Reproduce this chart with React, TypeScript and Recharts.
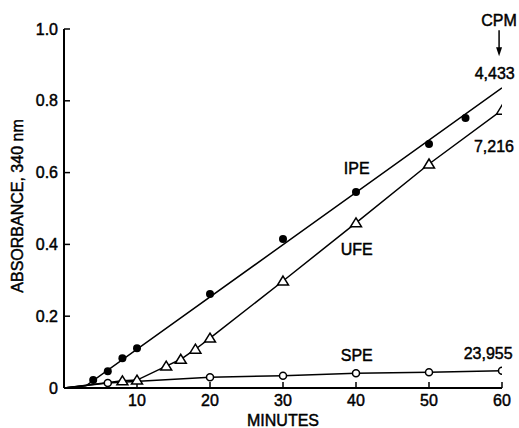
import { ComposedChart, Line, Scatter, XAxis, YAxis, ReferenceDot } from 'recharts';

// minutes / absorbance
const ipeMinutes = [4, 6, 8, 10, 20, 30, 40, 50, 55];
const ipeAbs = [0.022, 0.047, 0.083, 0.111, 0.262, 0.415, 0.546, 0.68, 0.752];
const ipeFitMinutes = [0, 3, 60];
const ipeFitAbs = [0, 0.006, 0.836];

const ufeMinutes = [8, 10, 14, 16, 18, 20, 30, 40, 50, 60];
const ufeAbs = [0.02, 0.022, 0.061, 0.08, 0.108, 0.139, 0.298, 0.46, 0.624, 0.774];

const speMinutes = [6, 20, 30, 40, 50, 60];
const speAbs = [0.014, 0.03, 0.034, 0.041, 0.044, 0.048];

const xTicks = [10, 20, 30, 40, 50, 60];
const yTicks = [0, 0.2, 0.4, 0.6, 0.8, 1.0];

const zip = (xs: number[], ys: number[]) => xs.map((x, i) => ({ x, y: ys[i] }));

const ipePoints = zip(ipeMinutes, ipeAbs);
const ipeFit = zip(ipeFitMinutes, ipeFitAbs);
const ufePoints = zip(ufeMinutes, ufeAbs);
const spePoints = zip(speMinutes, speAbs);
const ufeLine = [{ x: 0, y: 0 }, ...ufePoints];
const speLine = [{ x: 0, y: 0 }, ...spePoints];

const FONT = '"Liberation Sans", Arial, Helvetica, sans-serif';
const textStyle = { fill: '#000', fontSize: 16, stroke: '#000', strokeWidth: 0.45 };

const FilledDot = (p: any) => <circle cx={p.cx} cy={p.cy} r={4} fill="#000" />;
const OpenDot = (p: any) => (
  <circle cx={p.cx} cy={p.cy} r={3.5} fill="#fff" stroke="#000" strokeWidth={1.5} />
);
const OpenTriangle = (p: any) => {
  const { cx, cy } = p;
  return (
    <path
      d={`M${cx},${cy - 5} L${cx + 5.5},${cy + 4} L${cx - 5.5},${cy + 4} Z`}
      fill="#fff"
      stroke="#000"
      strokeWidth={1.5}
    />
  );
};
const Arrow = (p: any) => {
  const { cx, cy } = p;
  return (
    <g>
      <line x1={cx} y1={cy - 13} x2={cx} y2={cy + 5} stroke="#000" strokeWidth={1.5} />
      <path d={`M${cx - 3},${cy + 4} L${cx + 3},${cy + 4} L${cx},${cy + 13} Z`} fill="#000" />
    </g>
  );
};

const txt = (value: string, extra: any = {}) => ({
  value,
  position: 'center' as const,
  ...textStyle,
  ...extra,
});

export default function App() {
  return (
    <div style={{ position: 'absolute', left: 0, top: 0, width: 519, height: 428, background: '#fff', fontFamily: FONT }}>
      <ComposedChart width={519} height={428} margin={{ top: 29, right: 17, bottom: 0, left: 0 }}>
        <XAxis
          type="number"
          dataKey="x"
          domain={[0, 60]}
          ticks={xTicks}
          interval={0}
          allowDataOverflow
          axisLine={{ stroke: '#000', strokeWidth: 2 }}
          tickLine={{ stroke: '#000', strokeWidth: 1.5 }}
          tickSize={-6}
          tickMargin={13}
          height={40}
          tick={textStyle}
        />
        <YAxis
          type="number"
          dataKey="y"
          domain={[0, 1]}
          ticks={yTicks}
          interval={0}
          allowDataOverflow
          axisLine={{ stroke: '#000', strokeWidth: 2 }}
          tickLine={{ stroke: '#000', strokeWidth: 1.5 }}
          tickSize={-6}
          tickMargin={12}
          width={64}
          tick={textStyle}
          tickFormatter={(v: number) => (v === 0 ? '0' : v.toFixed(1))}
        />
        <Line data={speLine} dataKey="y" type="linear" stroke="#000" strokeWidth={1.5} dot={false} isAnimationActive={false} />
        <Line data={ufeLine} dataKey="y" type="linear" stroke="#000" strokeWidth={1.5} dot={false} isAnimationActive={false} />
        <Line data={ipeFit} dataKey="y" type="linear" stroke="#000" strokeWidth={1.5} dot={false} isAnimationActive={false} />
        <Scatter data={spePoints} dataKey="y" shape={OpenDot} isAnimationActive={false} />
        <Scatter data={ufePoints} dataKey="y" shape={OpenTriangle} isAnimationActive={false} />
        <Scatter data={ipePoints} dataKey="y" shape={FilledDot} isAnimationActive={false} />

        <ReferenceDot x={40.1} y={0.613} r={0} fill="none" stroke="none" ifOverflow="visible" label={txt('IPE')} />
        <ReferenceDot x={40.1} y={0.387} r={0} fill="none" stroke="none" ifOverflow="visible" label={txt('UFE')} />
        <ReferenceDot x={40.1} y={0.092} r={0} fill="none" stroke="none" ifOverflow="visible" label={txt('SPE')} />
        <ReferenceDot x={58.1} y={0.097} r={0} fill="none" stroke="none" ifOverflow="visible" label={txt('23,955')} />
        <ReferenceDot x={58.9} y={0.674} r={0} fill="none" stroke="none" ifOverflow="visible" label={txt('7,216')} />
        <ReferenceDot x={59.0} y={0.877} r={0} fill="none" stroke="none" ifOverflow="visible" label={txt('4,433')} />
        <ReferenceDot x={59.6} y={1.025} r={0} fill="none" stroke="none" ifOverflow="visible" label={txt('CPM')} />
        <ReferenceDot x={59.6} y={0.96} r={0} ifOverflow="visible" shape={Arrow} />
        <ReferenceDot x={30} y={-0.089} r={0} fill="none" stroke="none" ifOverflow="visible" label={txt('MINUTES')} />
        <ReferenceDot x={-6.44} y={0.507} r={0} fill="none" stroke="none" ifOverflow="visible" label={txt('ABSORBANCE, 340 nm', { angle: -90 })} />
      </ComposedChart>
    </div>
  );
}
